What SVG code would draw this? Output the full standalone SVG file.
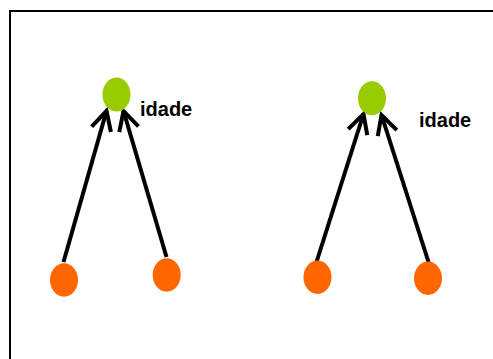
<svg xmlns="http://www.w3.org/2000/svg" width="493" height="359" viewBox="0 0 493 359">
<style>
.frame{fill:#fff;stroke:#000;stroke-width:2}
.green{fill:#99CC00}
.orange{fill:#FF6600}
.edge{stroke:#000;stroke-width:4;fill:none}
.lbl{font-family:"Liberation Sans",Arial,sans-serif;font-weight:bold;font-size:20px;fill:#000}
</style>
<defs>
<marker id="arr" markerUnits="userSpaceOnUse" orient="auto" refX="0" refY="0" markerWidth="40" markerHeight="40" viewBox="-25 -20 40 40" overflow="visible">
<path d="M-19,-10 L0,0 L-19,10" fill="none" stroke="#000" stroke-width="4"/>
</marker>
</defs>
<rect class="frame" x="10" y="11" width="500" height="400"/>
<g id="connectors">
<path class="edge" d="M63.5,262 L106.5,111" marker-end="url(#arr)"/>
<path class="edge" d="M166.5,257 L123.5,111" marker-end="url(#arr)"/>
<path class="edge" d="M316.5,262 L363.5,114" marker-end="url(#arr)"/>
<path class="edge" d="M428.5,262 L381.5,115" marker-end="url(#arr)"/>
</g>
<g id="idade1">
<ellipse class="green" cx="116.5" cy="94.5" rx="14" ry="17"/>
<text class="lbl" x="140" y="116">idade</text>
</g>
<g id="idade2">
<ellipse class="green" cx="372" cy="98.3" rx="14" ry="17"/>
<text class="lbl" x="419" y="127">idade</text>
</g>
<g id="a1"><ellipse class="orange" cx="64" cy="280" rx="14" ry="16.7"/></g>
<g id="b1"><ellipse class="orange" cx="166.7" cy="275" rx="14" ry="16.7"/></g>
<g id="a2"><ellipse class="orange" cx="317.5" cy="277.3" rx="14" ry="16.7"/></g>
<g id="b2"><ellipse class="orange" cx="428" cy="278.3" rx="14" ry="16.7"/></g>
</svg>
